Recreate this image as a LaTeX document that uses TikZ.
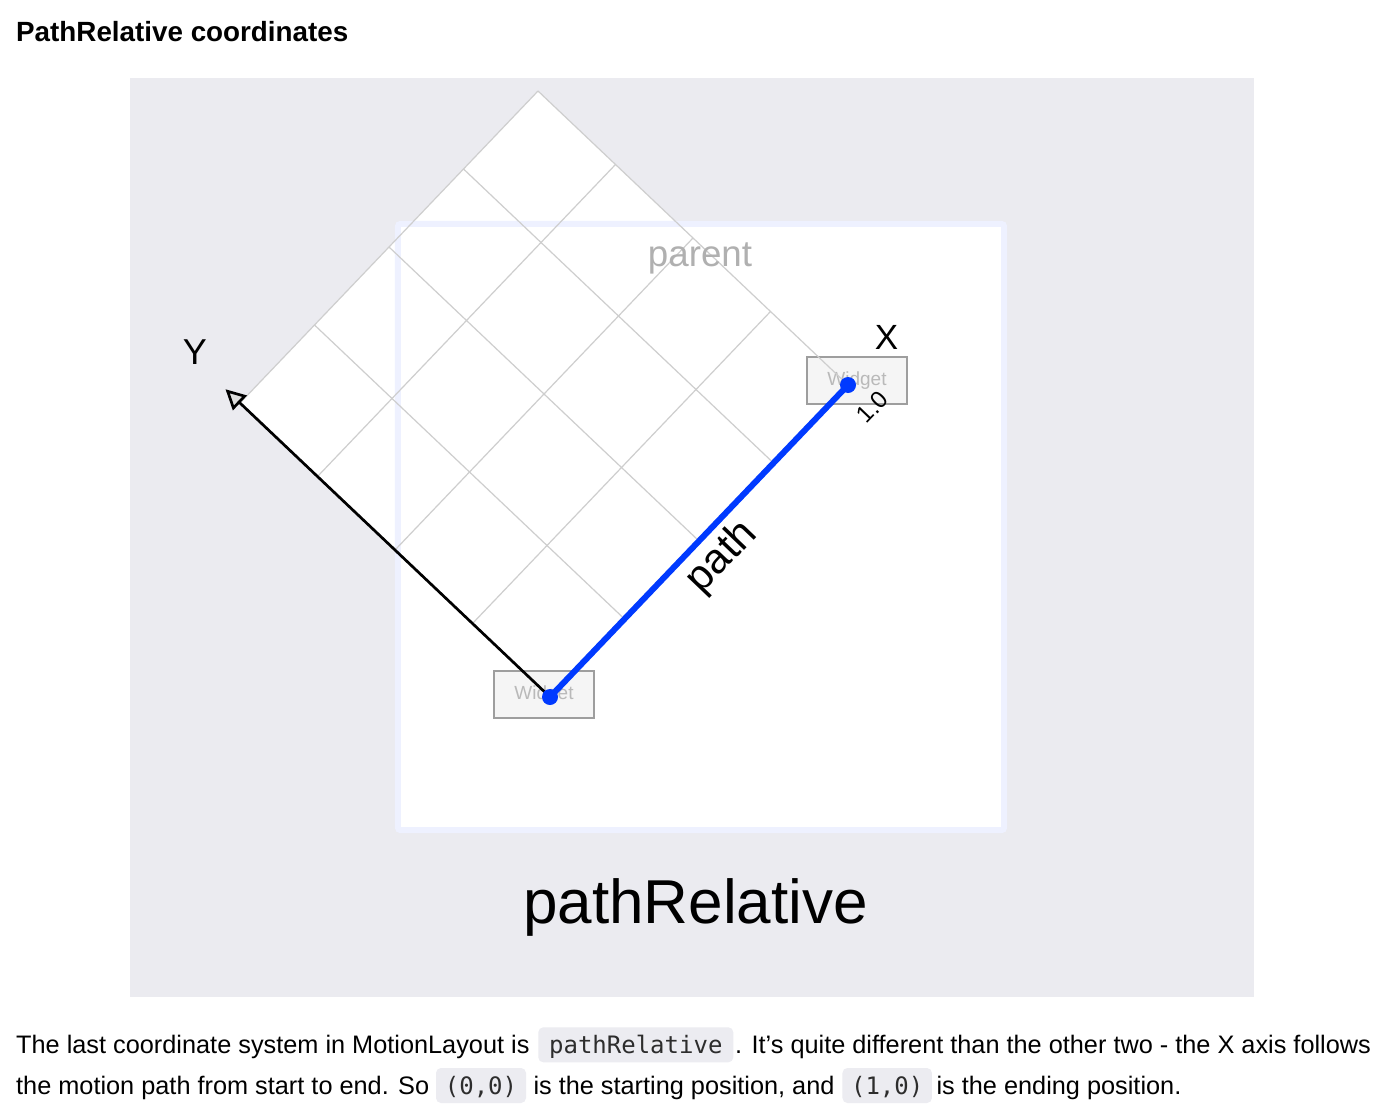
\documentclass[tikz,border=0pt]{standalone}
\usepackage{fontspec}
\setmainfont{Liberation Sans}
\setmonofont{DejaVu Sans Mono}
\usetikzlibrary{calc,arrows.meta}
\definecolor{panelbg}{RGB}{235,235,240}
\definecolor{parentedge}{RGB}{238,241,255}
\definecolor{gridgray}{RGB}{206,206,206}
\definecolor{pathblue}{RGB}{0,58,255}
\definecolor{widgetfill}{RGB}{245,245,245}
\definecolor{widgetedge}{RGB}{158,158,158}
\definecolor{widgettext}{RGB}{185,185,185}
\definecolor{parenttext}{RGB}{176,176,176}
\definecolor{arrowfill}{RGB}{222,222,222}
\definecolor{codebg}{RGB}{236,236,241}
\definecolor{codetext}{RGB}{45,45,45}
\newcommand{\fsz}[1]{\fontsize{#1pt}{#1pt}\selectfont}
\begin{document}
\begin{tikzpicture}[x=1pt,y=-1pt,
  txt/.style={inner sep=0pt, text=black},
  body/.style={txt, anchor=base west, font=\fsz{25.3}},
  codebox/.style={fill=codebg, rounded corners=5pt, text=codetext, font=\ttfamily\fsz{24}, inner xsep=0pt, inner ysep=5pt, text height=21pt, text depth=4pt, anchor=base},
  widget/.style={draw=widgetedge, line width=2pt, fill=widgetfill, minimum width=100pt, minimum height=47pt, inner sep=0pt, text=widgettext, font=\fsz{19}},
  gridline/.style={draw=gridgray, line width=1.2pt},
  yaxis/.style={draw=black, line width=2.7pt, -{Triangle[length=20pt,width=20pt,fill=arrowfill]}},
  motionpath/.style={draw=pathblue, line width=6pt},
  enddot/.style={fill=pathblue},
  axislabel/.style={txt, font=\fsz{36}},
]
\useasboundingbox (0,0) rectangle (1390,1108);
\fill[white] (0,0) rectangle (1390,1108);
% title
\node[txt, anchor=base west, font=\bfseries\fsz{27.8}] (title) at (16,41.7) {PathRelative coordinates};
% panel
\fill[panelbg] (130,78) rectangle (1254,997);
% parent
\node[fill=white, minimum width=606pt, minimum height=606pt, inner sep=0pt] (parent) at (701,527) {};
% grid corners
\coordinate (B) at (550,697);
\coordinate (R) at (848,385);
\coordinate (L) at (240,403);
\coordinate (T) at ($(R)+(L)-(B)$);
\coordinate (Ytip) at ($(L)!-20pt!(B)$);
\fill[white] (T) -- (R) -- (B) -- (L) -- cycle;
\draw[parentedge, line width=6pt, rounded corners=3pt] (parent.south west) rectangle (parent.north east);
% widgets
\node[widget] (wstart) at (544,694.5) {Widget};
\node[widget] (wend) at (857,380.5) {Widget};
% grid
\foreach \i in {0,...,4} {
  \draw[gridline] ($(B)!\i/4!(L)$) -- ($(R)!\i/4!(T)$);
  \draw[gridline] ($(B)!\i/4!(R)$) -- ($(L)!\i/4!(T)$);
}
% axes and path
\draw[yaxis] (B) -- (Ytip);
\draw[motionpath] (B) -- (R);
\fill[enddot] (B) circle (8pt);
\fill[enddot] (R) circle (8pt);
% labels
\node[txt, anchor=base, text=parenttext, font=\fsz{36.7}] (parentlabel) at (700,266) {parent};
\node[axislabel] (ylabel) at (195,352) {Y};
\node[axislabel, font=\fsz{35}] (xlabel) at (886.5,337.5) {X};
\node[txt, anchor=base, rotate=46.3, font=\fsz{42}] (pathlabel) at (730,565) {path};
\node[txt, rotate=46.3, font=\fsz{24}] (onelabel) at (872.5,407) {1.0};
\node[txt, anchor=base, font=\fsz{62}] (caption) at (695.5,923) {pathRelative};
% body text
\node[body] (t1a) at (16,1053.3) {The last coordinate system in MotionLayout is};
\node[codebox, minimum width=195pt] (c1) at (635.8,1053.3) {pathRelative};
\node[body] (t1b) at (735,1053.3) {. It's quite different than the other two - the X axis follows};
\node[body] (t2a) at (16,1094) {the motion path from start to end. So};
\node[codebox, minimum width=90pt] (c2) at (481,1094) {(0,0)};
\node[body] (t2b) at (533.3,1094) {is the starting position, and};
\node[codebox, minimum width=89.5pt] (c3) at (887.2,1094) {(1,0)};
\node[body] (t2c) at (936.4,1094) {is the ending position.};
\end{tikzpicture}
\end{document}
